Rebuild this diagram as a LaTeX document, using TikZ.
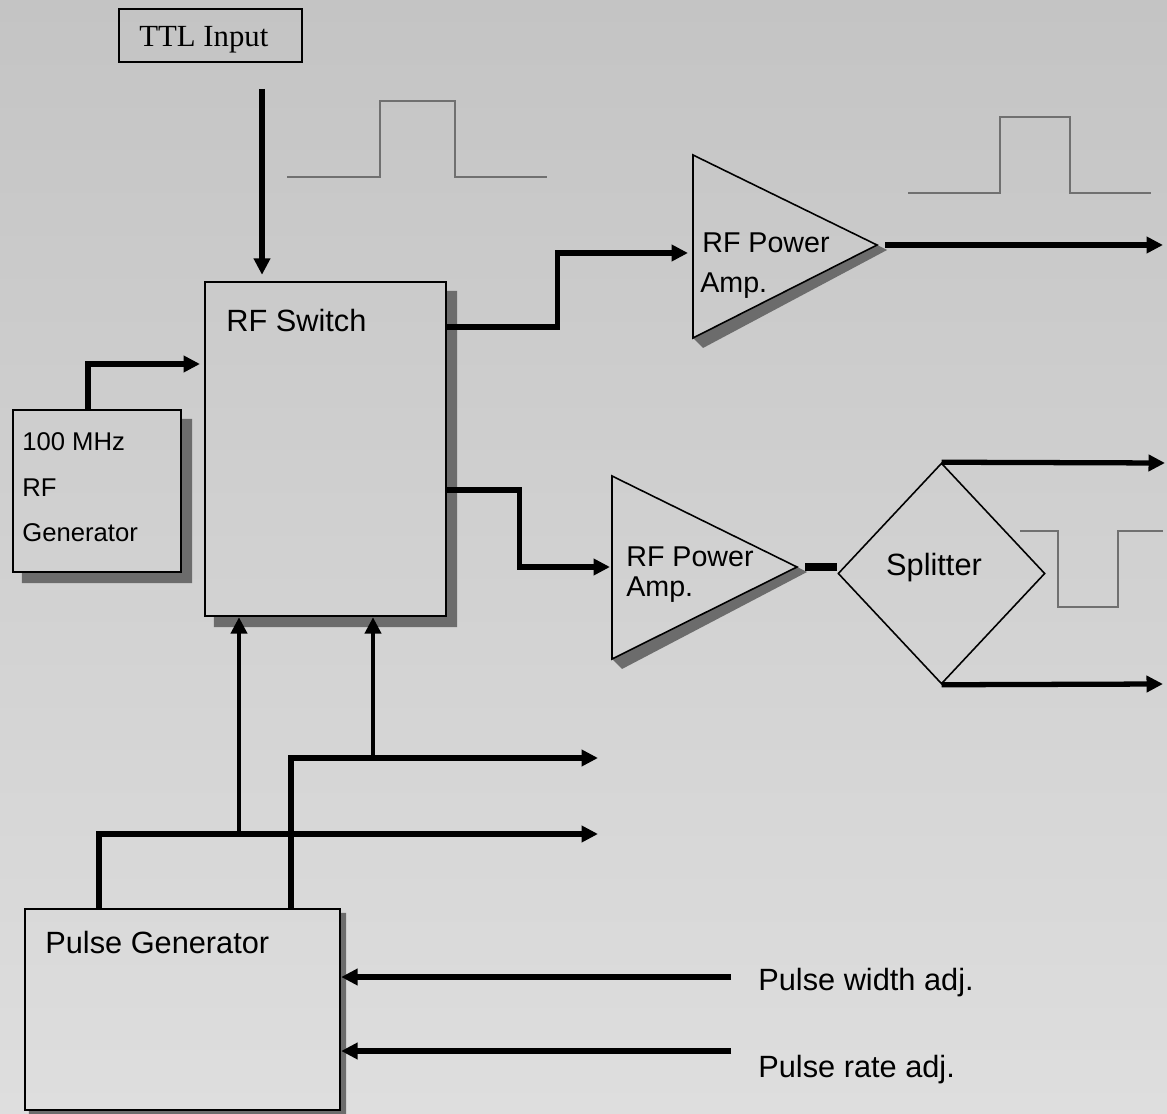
\documentclass[tikz,border=0pt]{standalone}
\usepackage{fontspec}
\setmainfont{Liberation Sans}
\newfontfamily\ttlfont{Liberation Serif}
\usetikzlibrary{arrows.meta,calc,shapes.geometric}
\definecolor{bgtop}{RGB}{196,196,196}
\definecolor{bgbot}{RGB}{222,222,222}
\definecolor{shadowgray}{RGB}{108,108,108}
\definecolor{pulsegray}{RGB}{112,112,112}

\begin{document}
\begin{tikzpicture}[
    x=0.02cm,y=-0.02cm,
    sig/.style={-{Triangle[length=0.33cm,width=0.32cm]},line width=3pt},
    block/.style={draw=black,line width=1.4pt,inner sep=0pt},
    amp/.style={draw=black,line width=0.9pt,line join=miter},
    boxshadow/.style={fill=shadowgray},
    pulse/.style={draw=pulsegray,line width=1.1pt},
    labelnode/.style={font=\fontsize{17.5}{21}\selectfont,inner sep=0pt},
    amplabel/.style={font=\fontsize{16.3}{19}\selectfont,inner sep=0pt,anchor=base west},
    smalllabel/.style={font=\fontsize{14.6}{17}\selectfont,inner sep=0pt,anchor=base west}
  ]
    \useasboundingbox (0,0) rectangle (1167,1114);
    \shade[top color=bgtop,bottom color=bgbot] (0,0) rectangle (1167,1114);

    % blocks
    \node[block,line width=1.1pt,minimum width=3.66cm,minimum height=1.06cm] (ttl) at (210.5,35.5) {};
    \node[block,minimum width=4.82cm,minimum height=6.68cm] (sw) at (325.5,449) {};
    \node[block,minimum width=3.36cm,minimum height=3.24cm] (gen) at (97,491) {};
    \node[block,minimum width=6.3cm,minimum height=4.02cm] (pg) at (182.5,1009.5) {};
    \node[diamond,draw=black,line width=0.9pt,minimum width=4.14cm,minimum height=4.42cm,
          inner sep=0pt] (split) at (941.5,573.5) {};
    \foreach \b/\d in {sw/10,gen/10,pg/5}
      \fill[boxshadow] ($(\b.north east)+(0,\d)$) -- ++(\d,0) |- ($(\b.south west)+(\d,\d)$)
        -- ++(0,-\d) -- (\b.south east) -- cycle;

    % amplifiers
    \coordinate (ampA-top) at (693,155);
    \coordinate (ampA-bot) at (693,338);
    \coordinate (ampA-out) at (877,245);
    \coordinate (ampA-in) at (693,253);
    \fill[boxshadow] (ampA-bot) -- (ampA-out) -- ++(10,5) -- ($(ampA-bot)+(10,10)$) -- cycle;
    \draw[amp] (ampA-top) -- (ampA-out) -- (ampA-bot) -- cycle;
    \coordinate (ampB-top) at (612,476);
    \coordinate (ampB-bot) at (612,659);
    \coordinate (ampB-out) at (797,567);
    \coordinate (ampB-in) at (612,567);
    \fill[boxshadow] (ampB-bot) -- (ampB-out) -- ++(10,5) -- ($(ampB-bot)+(10,10)$) -- cycle;
    \draw[amp] (ampB-top) -- (ampB-out) -- (ampB-bot) -- cycle;

    % labels
    \node[labelnode,font=\ttlfont\fontsize{17.5}{21}\selectfont,anchor=base west] (ttllbl) at (139,47) {TTL Input};
    \node[labelnode,anchor=base west] (swlbl) at (226,332) {RF Switch};
    \node[smalllabel] (genlbl1) at (22,451) {100 MHz};
    \node[smalllabel] (genlbl2) at (22,497) {RF};
    \node[smalllabel] (genlbl3) at (22,542) {Generator};
    \node[amplabel] (ampAlbl1) at (702,253) {RF Power};
    \node[amplabel] (ampAlbl2) at (700,293) {Amp.};
    \node[amplabel] (ampBlbl1) at (626,567) {RF Power};
    \node[amplabel] (ampBlbl2) at (626,597) {Amp.};
    \node[labelnode] (splitlbl) at (934,568) {Splitter};
    \node[labelnode,anchor=base west] (pglbl) at (45,953) {Pulse Generator};
    \node[labelnode,anchor=base west] (widthlbl) at (758,990) {Pulse width adj.};
    \node[labelnode,anchor=base west] (ratelbl) at (758,1077) {Pulse rate adj.};

    % pulse shapes
    \draw[pulse] (287,177) -- (380,177) -- (380,101) -- (455,101) -- (455,177) -- (547,177);
    \draw[pulse] (908,193) -- (1000,193) -- (1000,117) -- (1070,117) -- (1070,193) -- (1151,193);
    \draw[pulse] (1020,531) -- (1058,531) -- (1058,607) -- (1118,607) -- (1118,531) -- (1163,531);

    % connectors
    \coordinate (ttl-drop) at (262,89);
    \draw[sig,shorten >=0.12cm] (ttl-drop) -- (ttl-drop |- sw.north);
    \coordinate (gen-up) at (88,410);
    \coordinate (sw-rf) at (200,364);
    \draw[sig] (gen-up) |- (sw-rf);
    \coordinate (sw-o1) at (sw.east |- 0,327);
    \draw[sig,shorten >=0.1cm] (sw-o1) -- ++(110,0) |- (ampA-in);
    \coordinate (outA) at (1163,245);
    \draw[sig] ($(ampA-out)+(8,0)$) -- (outA);
    \coordinate (sw-o2) at (sw.east |- 0,490);
    \draw[sig,shorten >=0.04cm] (sw-o2) -- ++(72,0) |- (ampB-in);
    \draw[line width=4.5pt] ($(ampB-out)+(8,0)$) -- (ampB-out -| split.west);
    \coordinate (outB1) at (1165,463);
    \coordinate (outB2) at (1163,684);
    \draw[sig] (split.north) -- (outB1);
    \draw[sig] (split.south) -- (outB2);

    \coordinate (pg-o1) at (99,909);
    \coordinate (pg-o2) at (291,909);
    \coordinate (bus1) at (598,834);
    \coordinate (bus2) at (598,758);
    \draw[sig] (pg-o1) |- (bus1);
    \draw[sig,line width=3.6pt] (pg-o2) |- (bus2);
    \coordinate (tap1) at (239,834);
    \coordinate (tap2) at (373,758);
    \draw[sig,line width=2.4pt] (tap1) -- (tap1 |- sw.south);
    \draw[sig,line width=2.4pt] (tap2) -- (tap2 |- sw.south);

    \coordinate (wadj) at (731,977);
    \coordinate (radj) at (731,1051);
    \draw[sig] (wadj) -- (wadj -| pg.east);
    \draw[sig] (radj) -- (radj -| pg.east);
  \end{tikzpicture}
\end{document}
